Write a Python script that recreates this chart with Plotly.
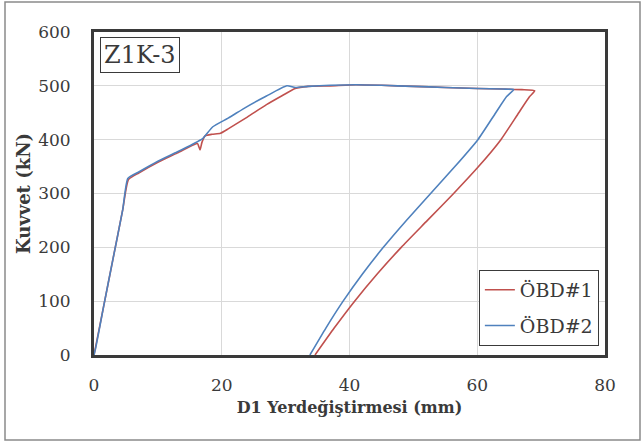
import plotly.graph_objects as go

# Load-displacement curves, specimen Z1K-3
x_obd1 = [0, 1.5, 3.0, 4.5, 5.4, 7.0, 10.0, 13.0, 15.5, 16.2, 16.6, 16.9, 17.4, 18.5,
          19.8, 21.0, 24.0, 27.0, 29.5, 31.5, 33.5, 37.0, 41.0, 45.0, 50.0, 55.0,
          60.0, 64.0, 67.0, 69.0, 68.2, 66.5, 63.7, 60.2, 56.3, 52.2, 48.1,
          44.3, 40.8, 37.6, 34.6]
y_obd1 = [0, 90, 180, 270, 326, 338, 358, 375, 390, 393, 381, 395, 407, 410,
          412, 420, 442, 465, 482, 495, 499, 500, 502, 501, 499, 497,
          495, 494, 493, 491, 480, 450, 400, 350, 300, 250, 200,
          150, 100, 50, 0]

x_obd2 = [0, 0.3, 1.5, 3.0, 4.5, 5.3, 7.0, 10.0, 13.0, 15.5, 17.0, 18.6, 21.0,
          23.9, 27.0, 30.2, 31.5, 33.5, 37.0, 41.0, 45.0, 50.0, 55.0, 60.0,
          64.0, 65.7, 64.6, 62.9, 60.1, 56.5, 52.7, 48.9, 45.3, 42.0, 39.0,
          36.3, 33.8]
y_obd2 = [0, 15, 90, 180, 270, 328, 340, 360, 377, 392, 402, 424, 440,
          461, 481, 500, 497, 499, 501, 502, 501, 499, 497, 495,
          494, 493, 480, 450, 400, 350, 300, 250, 200, 150, 100,
          50, 0]

series_names = ["ÖBD#1", "ÖBD#2"]
series_colors = ["#c0504d", "#4f81bd"]

x_ticks = [0, 20, 40, 60, 80]
y_ticks = [0, 100, 200, 300, 400, 500, 600]

serif = "DejaVu Serif"
ink = "#3a3a3a"

fig = go.Figure()
for xs, ys, name, color in zip([x_obd1, x_obd2], [y_obd1, y_obd2],
                               series_names, series_colors):
    fig.add_trace(go.Scatter(x=xs, y=ys, mode="lines", name=name,
                             legendgroup=name,
                             line=dict(color=color, width=1.6, shape="spline",
                                       smoothing=0.5)))

fig.update_layout(
    width=641, height=443,
    margin=dict(l=94, r=36, t=32, b=88),
    paper_bgcolor="white", plot_bgcolor="white",
    font=dict(family=serif, size=17, color=ink),
    showlegend=True,
    legend=dict(
        x=0.988, y=0.028, xanchor="right", yanchor="bottom",
        bordercolor=ink, borderwidth=1, bgcolor="white",
        font=dict(family=serif, size=19, color=ink),
        itemwidth=30, tracegroupgap=8,
    ),
    xaxis=dict(
        range=[0, 80], tickvals=x_ticks, ticks="",
        tickfont=dict(family=serif, size=17, color=ink),
        showgrid=True, gridcolor="#d9d9d9", gridwidth=1,
        showline=True, linecolor=ink, linewidth=3, mirror=True,
        zeroline=False, ticklabelstandoff=13,
        title=dict(text="<b>D1 Yerdeğiştirmesi (mm)</b>", standoff=8,
                   font=dict(family=serif, size=16, color=ink)),
    ),
    yaxis=dict(
        range=[0, 600], tickvals=y_ticks, ticks="",
        tickfont=dict(family=serif, size=17, color=ink),
        showgrid=True, gridcolor="#d9d9d9", gridwidth=1,
        showline=True, linecolor=ink, linewidth=3, mirror=True,
        zeroline=False, ticklabelstandoff=17,
        title=dict(text="<b>Kuvvet (kN)</b>", standoff=3,
                   font=dict(family=serif, size=18, color=ink)),
    ),
)

# Specimen tag in the upper-left corner
fig.add_annotation(
    text="Z1K-3", xref="paper", yref="paper", x=0.012, y=0.983,
    xanchor="left", yanchor="top", showarrow=False,
    font=dict(family=serif, size=24, color=ink),
    bordercolor=ink, borderwidth=1, borderpad=3, bgcolor="white",
)

# Thin frame around the whole figure
fig.add_shape(type="rect", xref="paper", yref="paper",
              x0=-89 / 511, x1=(640 - 94) / 511,
              y0=-(440 - 355) / 323, y1=1 + (32 - 2) / 323,
              line=dict(color="#8a8a8a", width=1.5), layer="below")

fig.write_html("out.html")
